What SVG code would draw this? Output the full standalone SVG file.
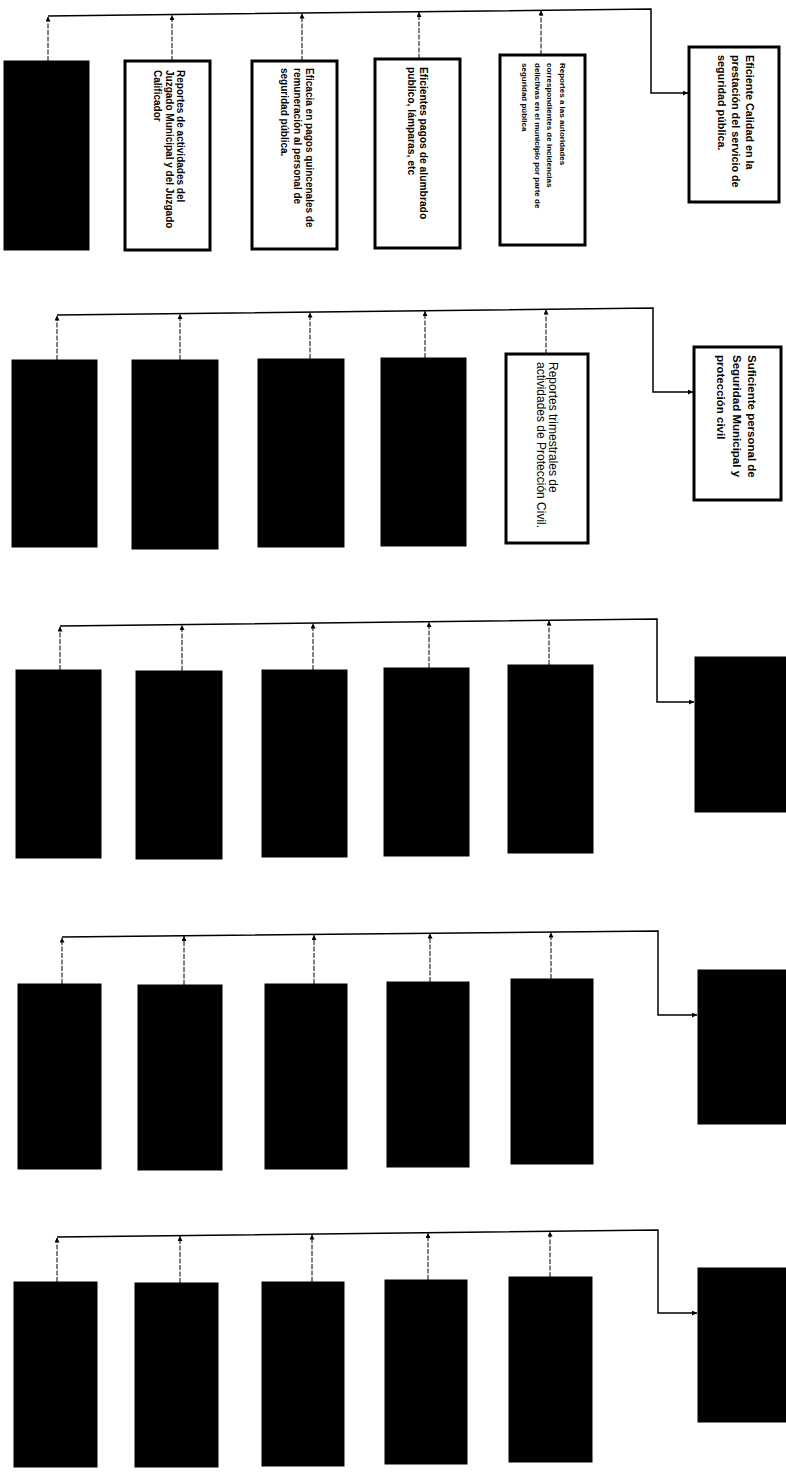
<svg xmlns="http://www.w3.org/2000/svg" width="786" height="1474" viewBox="0 0 786 1474">
<style>
.bk{fill:#000;stroke:#000;stroke-width:1}
.wb{fill:#fff;stroke:#000;stroke-width:3}
.bus{fill:none;stroke:#000;stroke-width:1.5}
.vc{fill:none;stroke:#000;stroke-width:1;stroke-dasharray:5 1.5}
.t{font-family:"Liberation Sans",Arial,sans-serif;font-weight:bold;fill:#000}
.n{font-family:"Liberation Sans",Arial,sans-serif;font-weight:normal;fill:#000}
</style>
<defs>
<marker id="ah" viewBox="0 0 6 6" refX="6" refY="3" markerWidth="5" markerHeight="5" orient="auto" markerUnits="userSpaceOnUse"><path d="M0,0 L6,3 L0,6 z" fill="#000"/></marker>
</defs>
<rect width="786" height="1474" fill="#fff"/>

<g id="connectors">
<!-- section 1 -->
<polyline class="bus" points="48,16 651,9 651,93 688,93" marker-end="url(#ah)"/>
<line class="vc" x1="48" y1="61" x2="48" y2="16.5" marker-end="url(#ah)"/>
<line class="vc" x1="172" y1="61" x2="172" y2="15" marker-end="url(#ah)"/>
<line class="vc" x1="302" y1="61" x2="302" y2="13.5" marker-end="url(#ah)"/>
<line class="vc" x1="419" y1="59" x2="419" y2="12" marker-end="url(#ah)"/>
<line class="vc" x1="541" y1="55" x2="541" y2="10.5" marker-end="url(#ah)"/>
<!-- section 2 -->
<polyline class="bus" points="57,315 653,308 653,392 693,392" marker-end="url(#ah)"/>
<line class="vc" x1="57" y1="360" x2="57" y2="315.5" marker-end="url(#ah)"/>
<line class="vc" x1="180" y1="360" x2="180" y2="314" marker-end="url(#ah)"/>
<line class="vc" x1="310" y1="359" x2="310" y2="312.5" marker-end="url(#ah)"/>
<line class="vc" x1="425" y1="358" x2="425" y2="311" marker-end="url(#ah)"/>
<line class="vc" x1="546" y1="354" x2="546" y2="309.5" marker-end="url(#ah)"/>
<!-- section 3 -->
<polyline class="bus" points="60,626 657,619 657,702 694,702" marker-end="url(#ah)"/>
<line class="vc" x1="60" y1="670" x2="60" y2="626.5" marker-end="url(#ah)"/>
<line class="vc" x1="182" y1="671" x2="182" y2="625" marker-end="url(#ah)"/>
<line class="vc" x1="313" y1="670" x2="313" y2="623.5" marker-end="url(#ah)"/>
<line class="vc" x1="429" y1="668" x2="429" y2="622" marker-end="url(#ah)"/>
<line class="vc" x1="549" y1="665" x2="549" y2="620.5" marker-end="url(#ah)"/>
<!-- section 4 -->
<polyline class="bus" points="62,937 658,931 658,1015 697,1015" marker-end="url(#ah)"/>
<line class="vc" x1="62" y1="984" x2="62" y2="937.5" marker-end="url(#ah)"/>
<line class="vc" x1="184" y1="985" x2="184" y2="936" marker-end="url(#ah)"/>
<line class="vc" x1="314" y1="984" x2="314" y2="935" marker-end="url(#ah)"/>
<line class="vc" x1="430" y1="982" x2="430" y2="933.5" marker-end="url(#ah)"/>
<line class="vc" x1="551" y1="979" x2="551" y2="932.5" marker-end="url(#ah)"/>
<!-- section 5 -->
<polyline class="bus" points="57,1237 658,1230 658,1313 697,1313" marker-end="url(#ah)"/>
<line class="vc" x1="57" y1="1282" x2="57" y2="1237.5" marker-end="url(#ah)"/>
<line class="vc" x1="180" y1="1283" x2="180" y2="1236" marker-end="url(#ah)"/>
<line class="vc" x1="312" y1="1282" x2="312" y2="1234.5" marker-end="url(#ah)"/>
<line class="vc" x1="428" y1="1280" x2="428" y2="1233" marker-end="url(#ah)"/>
<line class="vc" x1="550" y1="1277" x2="550" y2="1231.5" marker-end="url(#ah)"/>
</g>

<!-- Section 1 -->
<g id="s1-n1"><rect class="bk" x="4" y="61" width="85" height="189"/></g>
<g id="s1-n2"><rect class="wb" x="125" y="61" width="85" height="189"/>
<text class="t" font-size="10" transform="translate(177,70) rotate(90)"><tspan x="0" y="0">Reportes de actividades del</tspan><tspan x="0" dy="11.5">Juzgado Municipal y del Juzgado</tspan><tspan x="0" dy="11.5">Calificador</tspan></text></g>
<g id="s1-n3"><rect class="wb" x="252" y="61" width="85" height="188"/>
<text class="t" font-size="10" transform="translate(306,68) rotate(90)"><tspan x="0" y="0">Eficacia en pagos quincenales de</tspan><tspan x="0" dy="12.5">remuneración al personal de</tspan><tspan x="0" dy="12.5">seguridad pública.</tspan></text></g>
<g id="s1-n4"><rect class="wb" x="375" y="59" width="85" height="189"/>
<text class="t" font-size="10.3" transform="translate(420,67) rotate(90)"><tspan x="0" y="0">Eficientes pagos de alumbrado</tspan><tspan x="0" dy="12">publico, lámparas, etc</tspan></text></g>
<g id="s1-n5"><rect class="wb" x="500" y="55" width="85" height="190"/>
<text class="t" font-size="8" transform="translate(559.5,63) rotate(90)"><tspan x="0" y="0">Reportes a las autoridades</tspan><tspan x="0" dy="12.5">correspondientes de incidencias</tspan><tspan x="0" dy="12.5">delictivas en el municipio por parte de</tspan><tspan x="0" dy="12.5">seguridad pública</tspan></text></g>
<g id="s1-goal"><rect class="wb" x="689" y="47" width="90" height="155"/>
<text class="t" font-size="10.8" transform="translate(746,55) rotate(90)"><tspan x="0" y="0">Eficiente Calidad en la</tspan><tspan x="0" dy="14">prestación del servicio de</tspan><tspan x="0" dy="14">seguridad pública.</tspan></text></g>

<!-- Section 2 -->
<g id="s2-n1"><rect class="bk" x="12" y="360" width="85" height="187"/></g>
<g id="s2-n2"><rect class="bk" x="132" y="360" width="86" height="189"/></g>
<g id="s2-n3"><rect class="bk" x="258" y="359" width="86" height="188"/></g>
<g id="s2-n4"><rect class="bk" x="381" y="358" width="85" height="188"/></g>
<g id="s2-n5"><rect class="wb" x="506" y="354" width="82" height="189"/>
<text class="n" font-size="12" transform="translate(549,362) rotate(90)"><tspan x="0" y="0">Reportes trimestrales de</tspan><tspan x="0" dy="12.5">actividades de Protección Civil.</tspan></text></g>
<g id="s2-goal"><rect class="wb" x="694" y="347" width="87" height="153"/>
<text class="t" font-size="11.5" transform="translate(748,355) rotate(90)"><tspan x="0" y="0">Suficiente personal de</tspan><tspan x="0" dy="15.5">Seguridad Municipal y</tspan><tspan x="0" dy="15.5">protección civil</tspan></text></g>

<!-- Section 3 -->
<g id="s3-n1"><rect class="bk" x="16" y="670" width="85" height="188"/></g>
<g id="s3-n2"><rect class="bk" x="136" y="671" width="86" height="188"/></g>
<g id="s3-n3"><rect class="bk" x="262" y="670" width="85" height="187"/></g>
<g id="s3-n4"><rect class="bk" x="384" y="668" width="85" height="188"/></g>
<g id="s3-n5"><rect class="bk" x="508" y="665" width="85" height="188"/></g>
<g id="s3-goal"><rect class="bk" x="695" y="657" width="92" height="155"/></g>

<!-- Section 4 -->
<g id="s4-n1"><rect class="bk" x="18" y="984" width="83" height="185"/></g>
<g id="s4-n2"><rect class="bk" x="138" y="985" width="84" height="185"/></g>
<g id="s4-n3"><rect class="bk" x="265" y="984" width="82" height="185"/></g>
<g id="s4-n4"><rect class="bk" x="387" y="982" width="82" height="185"/></g>
<g id="s4-n5"><rect class="bk" x="511" y="979" width="82" height="185"/></g>
<g id="s4-goal"><rect class="bk" x="698" y="970" width="89" height="154"/></g>

<!-- Section 5 -->
<g id="s5-n1"><rect class="bk" x="14" y="1282" width="83" height="185"/></g>
<g id="s5-n2"><rect class="bk" x="135" y="1283" width="83" height="184"/></g>
<g id="s5-n3"><rect class="bk" x="262" y="1282" width="82" height="184"/></g>
<g id="s5-n4"><rect class="bk" x="385" y="1280" width="82" height="184"/></g>
<g id="s5-n5"><rect class="bk" x="509" y="1277" width="83" height="185"/></g>
<g id="s5-goal"><rect class="bk" x="698" y="1268" width="89" height="154"/></g>
</svg>
